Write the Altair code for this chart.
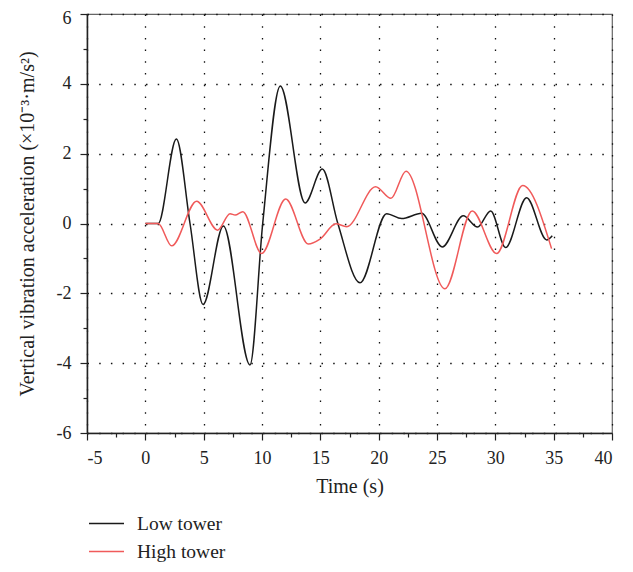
import altair as alt
import pandas as pd

# Low tower (black)
t_low = [0, 1.1, 2.66, 3.83, 4.95, 6.69, 8.97, 10.06, 11.57, 13.69, 15.17, 16.5,
         18.4, 20.68, 21.97, 23.68, 25.45, 27.25, 28.48, 29.6, 30.88, 32.68, 34.4, 34.88]
v_low = [0, 0, 2.42, 0, -2.32, -0.07, -4.05, 0, 3.94, 0.59, 1.56, 0,
         -1.70, 0.28, 0.14, 0.29, -0.67, 0.22, -0.10, 0.36, -0.69, 0.74, -0.47, -0.35]

# High tower (red)
t_high = [0, 1.1, 2.26, 4.4, 6.2, 7.26, 7.7, 8.35, 9.97, 12.03, 13.97, 14.97, 16.34,
          17.26, 19.74, 21.05, 22.34, 25.68, 28.02, 30.11, 32.34, 34.82]
v_high = [0, 0, -0.64, 0.64, -0.19, 0.28, 0.24, 0.34, -0.86, 0.70, -0.59, -0.45, -0.01,
          -0.09, 1.05, 0.72, 1.50, -1.87, 0.36, -0.86, 1.09, -0.72]

series = ["Low tower", "High tower"]
colors = ["#1a1a1a", "#f05a5a"]

x_vals = [-5 + 2.5 * i for i in range(19)]
y_vals = list(range(-6, 7))

df = pd.concat([
    pd.DataFrame({"t": t_low, "v": v_low, "s": series[0], "o": range(len(t_low))}),
    pd.DataFrame({"t": t_high, "v": v_high, "s": series[1], "o": range(len(t_high))}),
])

FONT = "Liberation Serif"

x_axis = alt.Axis(
    values=x_vals,
    labelExpr="datum.value % 5 === 0 ? '' + datum.value : ''",
    tickSize={"condition": {"test": "datum.value % 5 === 0", "value": 7}, "value": 4},
    gridOpacity={"condition": {"test": "datum.value % 5 === 0", "value": 1}, "value": 0},
    title="Time (s)",
    titleFontSize=20,
    labelPadding=9, titlePadding=9,
)
y_axis = alt.Axis(
    values=y_vals,
    labelExpr="datum.value % 2 === 0 ? '' + datum.value : ''",
    tickSize={"condition": {"test": "datum.value % 2 === 0", "value": 7}, "value": 4},
    gridOpacity={"condition": {"test": "datum.value % 2 === 0", "value": 1}, "value": 0},
    labelOffset={"condition": {"test": "datum.value === 6", "value": 4}, "value": 0},
    title="Vertical vibration acceleration (×10⁻³·m/s²)",
    titleFontSize=20,
    labelPadding=9, titlePadding=19,
)

chart = alt.Chart(df).mark_line(interpolate="monotone", strokeWidth=1.5).encode(
    x=alt.X("t:Q", scale=alt.Scale(domain=[-5, 40], nice=False, zero=False), axis=x_axis),
    y=alt.Y("v:Q", scale=alt.Scale(domain=[-6, 6], nice=False), axis=y_axis),
    color=alt.Color("s:N", scale=alt.Scale(domain=series, range=colors),
                    legend=alt.Legend(title=None, orient="none", legendX=1, legendY=491,
                                      direction="vertical", symbolType="stroke",
                                      symbolSize=1225, symbolStrokeWidth=1.3,
                                      labelFont=FONT, labelFontSize=19.5, labelColor="#222",
                                      labelOffset=12, rowPadding=-9, padding=0)),
    order="o:Q",
).properties(
    width=525, height=419,
    autosize=alt.AutoSizeParams(type="none"),
    padding={"left": 79, "top": 6, "right": 13, "bottom": 130},
).configure_view(
    stroke="#666", strokeWidth=1.2
).configure_axis(
    labelFont=FONT, labelFontSize=18, labelColor="#222",
    titleFont=FONT, titleFontWeight="normal", titleColor="#222",
    domainColor="#222", domainWidth=1.5, tickColor="#222", tickWidth=1.2,
    gridColor="#111", gridDash=[1.5, 10.2], gridWidth=1.3,
)

chart.save("out.html", embed_options={"renderer": "svg", "actions": False})
